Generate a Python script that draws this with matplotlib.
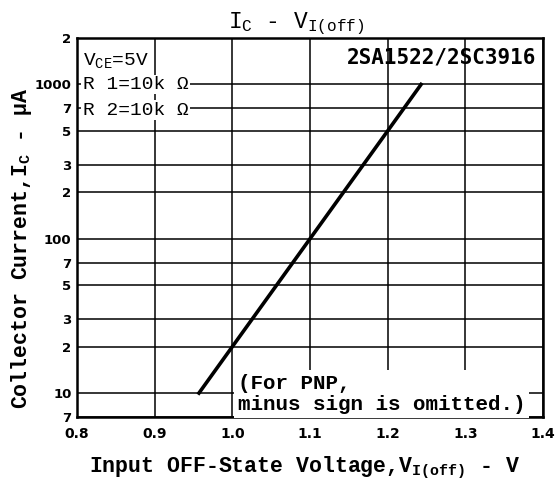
import numpy as np
import matplotlib
matplotlib.use('Agg')
from matplotlib import pyplot as plt
from matplotlib.ticker import FixedLocator, FixedFormatter, NullLocator

# curve
v_off = [0.957, 1.0, 1.1, 1.2, 1.243]
i_c = [10, 20, 100, 500, 1000]

x_ticks = [0.8, 0.9, 1.0, 1.1, 1.2, 1.3, 1.4]
x_labels = ['0.8', '0.9', '1.0', '1.1', '1.2', '1.3', '1.4']
y_ticks = [7, 10, 20, 30, 50, 70, 100, 200, 300, 500, 700, 1000, 2000]
y_labels = ['7', '10', '2', '3', '5', '7', '100', '2', '3', '5', '7', '1000', '2']

MONO = 'Liberation Mono'

fig = plt.figure(figsize=(5.55, 4.84), dpi=100)
ax = fig.add_axes([77 / 555, 1 - 417 / 484, 466 / 555, 379 / 484])

ax.set_yscale('log')
ax.set_xlim(0.8, 1.4)
ax.set_ylim(7, 2000)

ax.xaxis.set_major_locator(FixedLocator(x_ticks))
ax.xaxis.set_major_formatter(FixedFormatter(x_labels))
ax.yaxis.set_major_locator(FixedLocator(y_ticks))
ax.yaxis.set_major_formatter(FixedFormatter(y_labels))
ax.yaxis.set_minor_locator(NullLocator())
ax.xaxis.set_minor_locator(NullLocator())

ax.grid(True, color='black', linewidth=1.1)
ax.tick_params(length=0, labelsize=10, pad=7)
for lab in ax.get_xticklabels() + ax.get_yticklabels():
    lab.set_fontweight('bold')
ax.tick_params(axis='y', pad=4, labelsize=9.5)
for s in ax.spines.values():
    s.set_linewidth(1.8)

ax.plot(v_off, i_c, color='black', linewidth=2.6, zorder=5)

# condition notes (white boxes hide the grid behind them)
box = dict(facecolor='white', edgecolor='none', pad=1)
ax.text(0.012, 0.965, 'V$_{\\mathregular{CE}}$=5V', transform=ax.transAxes,
        fontsize=14, family=MONO, va='top', ha='left', bbox=box, zorder=6)
ax.text(0.012, 0.9, 'R 1=10k Ω', transform=ax.transAxes,
        fontsize=14, family=MONO, va='top', ha='left', bbox=box, zorder=6)
ax.text(0.012, 0.832, 'R 2=10k Ω', transform=ax.transAxes,
        fontsize=14, family=MONO, va='top', ha='left', bbox=box, zorder=6)
ax.text(0.985, 0.975, '2SA1522/2SC3916', transform=ax.transAxes,
        fontsize=15, family='DejaVu Sans Mono', fontweight='bold',
        va='top', ha='right', zorder=6)
ax.text(0.345, 0.008, '(For PNP,\nminus sign is omitted.)', transform=ax.transAxes,
        fontsize=15, family=MONO, fontweight='bold', va='bottom', ha='left',
        linespacing=1.1,
        bbox=dict(facecolor='white', edgecolor='none', pad=3), zorder=6)

ax.set_title('I$_\\mathregular{C}$ - V$_\\mathregular{I(off)}$', family=MONO,
             fontsize=16.5, x=0.47, y=1.005)
ax.set_xlabel('Input OFF-State Voltage,V$_\\mathregular{I(off)}$ - V',
              family=MONO, fontweight='bold', fontsize=15.5)
ax.set_ylabel('Collector Current,I$_\\mathregular{C}$ - μA',
              family=MONO, fontweight='bold', fontsize=15.5)
ax.xaxis.set_label_coords(0.489, -0.1)
ax.yaxis.set_label_coords(-0.093, 0.446)

fig.savefig('out.png', dpi=100)
